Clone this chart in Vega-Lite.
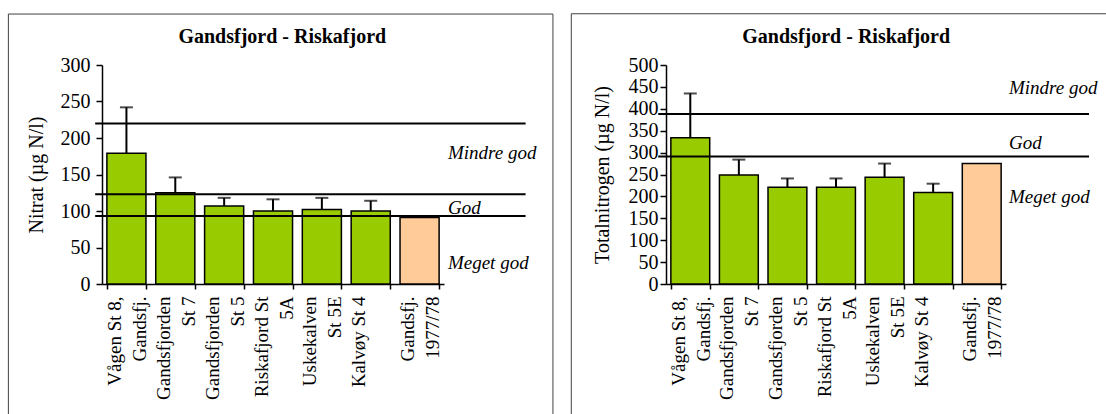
{
  "$schema": "https://vega.github.io/schema/vega-lite/v6.json",
  "padding": {"left": 7, "top": 13, "right": 0, "bottom": 0},
  "spacing": 16,
  "config": {
    "font": "Liberation Serif",
    "view": {"stroke": null},
    "text": {"font": "Liberation Serif"},
    "axis": {"labelFont": "Liberation Serif", "titleFont": "Liberation Serif", "labelColor": "#000", "titleColor": "#000", "domainColor": "#000", "tickColor": "#000", "grid": false, "domainWidth": 1.5, "tickWidth": 1.5}
  },
  "datasets": {
    "nitrat": [
      {"station": "Vågen St 8,|Gandsfj.", "value": 179, "upper": 242, "period": "2000s"},
      {"station": "Gandsfjorden|St 7", "value": 125, "upper": 146, "period": "2000s"},
      {"station": "Gandsfjorden|St 5", "value": 107, "upper": 118, "period": "2000s"},
      {"station": "Riskafjord St|5A", "value": 100, "upper": 116, "period": "2000s"},
      {"station": "Uskekalven|St 5E", "value": 102, "upper": 118, "period": "2000s"},
      {"station": "Kalvøy St 4", "value": 100, "upper": 114, "period": "2000s"},
      {"station": "Gandsfj.|1977/78", "value": 91, "upper": null, "period": "1977/78"}
    ],
    "totn": [
      {"station": "Vågen St 8,|Gandsfj.", "value": 334, "upper": 435, "period": "2000s"},
      {"station": "Gandsfjorden|St 7", "value": 249, "upper": 284, "period": "2000s"},
      {"station": "Gandsfjorden|St 5", "value": 221, "upper": 241, "period": "2000s"},
      {"station": "Riskafjord St|5A", "value": 221, "upper": 241, "period": "2000s"},
      {"station": "Uskekalven|St 5E", "value": 244, "upper": 275, "period": "2000s"},
      {"station": "Kalvøy St 4", "value": 209, "upper": 229, "period": "2000s"},
      {"station": "Gandsfj.|1977/78", "value": 275, "upper": null, "period": "1977/78"}
    ],
    "nitratLimits": [{"threshold": 220}, {"threshold": 123}, {"threshold": 93}],
    "nitratClasses": [{"label": "Mindre god", "ypos": 171}, {"label": "God", "ypos": 96}, {"label": "Meget god", "ypos": 21}],
    "totnLimits": [{"threshold": 388}, {"threshold": 291}],
    "totnClasses": [{"label": "Mindre god", "ypos": 434}, {"label": "God", "ypos": 309}, {"label": "Meget god", "ypos": 186}],
    "heading": [{"title": "Gandsfjord - Riskafjord"}]
  },
  "hconcat": [
    {
      "width": 342,
      "height": 219,
      "resolve": {"scale": {"x": "independent"}},
      "layer": [
        {
          "data": {"name": "nitrat"},
          "layer": [
            {
              "mark": {"type": "bar", "stroke": "#000", "strokeWidth": 1.5},
              "encoding": {
                "x": {"field": "station", "type": "nominal", "sort": null, "scale": {"paddingInner": 0.2, "paddingOuter": 0.1},
                  "axis": {"title": null, "labelAngle": -90, "labelFont": "Liberation Serif", "labelFontSize": 19, "labelLineHeight": 25, "labelExpr": "split(datum.label, '|')", "labelOffset": -12, "tickBand": "extent", "tickSize": 5, "labelPadding": 7}},
                "y": {"field": "value", "type": "quantitative", "scale": {"domain": [0, 300], "nice": false}, "title": "Nitrat (µg N/l)",
                  "axis": {"values": [0, 50, 100, 150, 200, 250, 300], "tickSize": 6, "labelFont": "Liberation Serif", "labelFontSize": 20, "titleFont": "Liberation Serif", "titleFontSize": 20, "titleFontWeight": "normal", "labelPadding": 6, "titlePadding": 14}},
                "color": {"field": "period", "type": "nominal", "scale": {"domain": ["2000s", "1977/78"], "range": ["#99CC00", "#FFCC99"]}, "legend": null}
              }
            },
            {
              "transform": [{"filter": "datum.upper != null"}],
              "mark": {"type": "rule", "color": "#000", "strokeWidth": 2},
              "encoding": {
                "x": {"field": "station", "type": "nominal", "sort": null,
                  "axis": {"title": null, "labelAngle": -90, "labelFont": "Liberation Serif", "labelFontSize": 19, "labelLineHeight": 25, "labelExpr": "split(datum.label, '|')", "labelOffset": -12, "tickBand": "extent", "tickSize": 5, "labelPadding": 7}},
                "y": {"field": "value", "type": "quantitative", "title": "Nitrat (µg N/l)",
                  "axis": {"values": [0, 50, 100, 150, 200, 250, 300], "tickSize": 6, "labelFont": "Liberation Serif", "labelFontSize": 20, "titleFont": "Liberation Serif", "titleFontSize": 20, "titleFontWeight": "normal", "labelPadding": 6, "titlePadding": 14}},
                "y2": {"field": "upper"}
              }
            },
            {
              "transform": [{"filter": "datum.upper != null"}],
              "mark": {"type": "tick", "color": "#000", "size": 13, "thickness": 2},
              "encoding": {
                "x": {"field": "station", "type": "nominal", "sort": null,
                  "axis": {"title": null, "labelAngle": -90, "labelFont": "Liberation Serif", "labelFontSize": 19, "labelLineHeight": 25, "labelExpr": "split(datum.label, '|')", "labelOffset": -12, "tickBand": "extent", "tickSize": 5, "labelPadding": 7}},
                "y": {"field": "upper", "type": "quantitative", "title": "Nitrat (µg N/l)",
                  "axis": {"values": [0, 50, 100, 150, 200, 250, 300], "tickSize": 6, "labelFont": "Liberation Serif", "labelFontSize": 20, "titleFont": "Liberation Serif", "titleFontSize": 20, "titleFontWeight": "normal", "labelPadding": 6, "titlePadding": 14}}
              }
            }
          ]
        },
        {
          "layer": [
            {
              "data": {"values": [{}]},
              "mark": {"type": "rect", "fill": null, "stroke": "#404040", "strokeWidth": 1},
              "encoding": {
                "x": {"datum": -1.916, "type": "quantitative", "scale": {"domain": [0, 7], "nice": false, "zero": false}, "axis": null},
                "x2": {"datum": 9.23},
                "y": {"datum": 369.8, "type": "quantitative", "title": "Nitrat (µg N/l)",
                  "axis": {"values": [0, 50, 100, 150, 200, 250, 300], "tickSize": 6, "labelFont": "Liberation Serif", "labelFontSize": 20, "titleFont": "Liberation Serif", "titleFontSize": 20, "titleFontWeight": "normal", "labelPadding": 6, "titlePadding": 14}},
                "y2": {"datum": -187}
              }
            },
            {
              "data": {"name": "heading"},
              "mark": {"type": "text", "align": "center", "baseline": "alphabetic", "fontSize": 20, "fontWeight": "bold", "color": "#000", "font": "Liberation Serif"},
              "encoding": {
                "x": {"datum": 3.69, "type": "quantitative", "scale": {"domain": [0, 7], "nice": false, "zero": false}, "axis": null},
                "y": {"datum": 330, "type": "quantitative", "title": "Nitrat (µg N/l)",
                  "axis": {"values": [0, 50, 100, 150, 200, 250, 300], "tickSize": 6, "labelFont": "Liberation Serif", "labelFontSize": 20, "titleFont": "Liberation Serif", "titleFontSize": 20, "titleFontWeight": "normal", "labelPadding": 6, "titlePadding": 14}},
                "text": {"field": "title"}
              }
            },
            {
              "data": {"name": "nitratLimits"},
              "mark": {"type": "rule", "color": "#000", "strokeWidth": 2},
              "encoding": {
                "x": {"datum": -0.14, "type": "quantitative", "scale": {"domain": [0, 7], "nice": false, "zero": false}, "axis": null},
                "x2": {"datum": 8.67},
                "y": {"field": "threshold", "type": "quantitative", "title": "Nitrat (µg N/l)",
                  "axis": {"values": [0, 50, 100, 150, 200, 250, 300], "tickSize": 6, "labelFont": "Liberation Serif", "labelFontSize": 20, "titleFont": "Liberation Serif", "titleFontSize": 20, "titleFontWeight": "normal", "labelPadding": 6, "titlePadding": 14}}
              }
            },
            {
              "data": {"name": "nitratClasses"},
              "mark": {"type": "text", "align": "left", "baseline": "alphabetic", "fontSize": 19, "fontStyle": "italic", "color": "#000", "font": "Liberation Serif"},
              "encoding": {
                "x": {"datum": 7.08, "type": "quantitative", "scale": {"domain": [0, 7], "nice": false, "zero": false}, "axis": null},
                "y": {"field": "ypos", "type": "quantitative", "title": "Nitrat (µg N/l)",
                  "axis": {"values": [0, 50, 100, 150, 200, 250, 300], "tickSize": 6, "labelFont": "Liberation Serif", "labelFontSize": 20, "titleFont": "Liberation Serif", "titleFontSize": 20, "titleFontWeight": "normal", "labelPadding": 6, "titlePadding": 14}},
                "text": {"field": "label"}
              }
            }
          ]
        }
      ]
    },
    {
      "width": 340,
      "height": 219,
      "resolve": {"scale": {"x": "independent"}},
      "layer": [
        {
          "data": {"name": "totn"},
          "layer": [
            {
              "mark": {"type": "bar", "stroke": "#000", "strokeWidth": 1.5},
              "encoding": {
                "x": {"field": "station", "type": "nominal", "sort": null, "scale": {"paddingInner": 0.2, "paddingOuter": 0.1},
                  "axis": {"title": null, "labelAngle": -90, "labelFont": "Liberation Serif", "labelFontSize": 19, "labelLineHeight": 25, "labelExpr": "split(datum.label, '|')", "labelOffset": -12, "tickBand": "extent", "tickSize": 5, "labelPadding": 7}},
                "y": {"field": "value", "type": "quantitative", "scale": {"domain": [0, 500], "nice": false}, "title": "Totalnitrogen (µg N/l)",
                  "axis": {"values": [0, 50, 100, 150, 200, 250, 300, 350, 400, 450, 500], "tickSize": 6, "labelFont": "Liberation Serif", "labelFontSize": 20, "titleFont": "Liberation Serif", "titleFontSize": 20, "titleFontWeight": "normal", "labelPadding": 2, "titlePadding": 16}},
                "color": {"field": "period", "type": "nominal", "scale": {"domain": ["2000s", "1977/78"], "range": ["#99CC00", "#FFCC99"]}, "legend": null}
              }
            },
            {
              "transform": [{"filter": "datum.upper != null"}],
              "mark": {"type": "rule", "color": "#000", "strokeWidth": 2},
              "encoding": {
                "x": {"field": "station", "type": "nominal", "sort": null,
                  "axis": {"title": null, "labelAngle": -90, "labelFont": "Liberation Serif", "labelFontSize": 19, "labelLineHeight": 25, "labelExpr": "split(datum.label, '|')", "labelOffset": -12, "tickBand": "extent", "tickSize": 5, "labelPadding": 7}},
                "y": {"field": "value", "type": "quantitative", "title": "Totalnitrogen (µg N/l)",
                  "axis": {"values": [0, 50, 100, 150, 200, 250, 300, 350, 400, 450, 500], "tickSize": 6, "labelFont": "Liberation Serif", "labelFontSize": 20, "titleFont": "Liberation Serif", "titleFontSize": 20, "titleFontWeight": "normal", "labelPadding": 2, "titlePadding": 16}},
                "y2": {"field": "upper"}
              }
            },
            {
              "transform": [{"filter": "datum.upper != null"}],
              "mark": {"type": "tick", "color": "#000", "size": 13, "thickness": 2},
              "encoding": {
                "x": {"field": "station", "type": "nominal", "sort": null,
                  "axis": {"title": null, "labelAngle": -90, "labelFont": "Liberation Serif", "labelFontSize": 19, "labelLineHeight": 25, "labelExpr": "split(datum.label, '|')", "labelOffset": -12, "tickBand": "extent", "tickSize": 5, "labelPadding": 7}},
                "y": {"field": "upper", "type": "quantitative", "title": "Totalnitrogen (µg N/l)",
                  "axis": {"values": [0, 50, 100, 150, 200, 250, 300, 350, 400, 450, 500], "tickSize": 6, "labelFont": "Liberation Serif", "labelFontSize": 20, "titleFont": "Liberation Serif", "titleFontSize": 20, "titleFontWeight": "normal", "labelPadding": 2, "titlePadding": 16}}
              }
            }
          ]
        },
        {
          "layer": [
            {
              "data": {"values": [{}]},
              "mark": {"type": "rect", "fill": null, "stroke": "#404040", "strokeWidth": 1},
              "encoding": {
                "x": {"datum": -1.95, "type": "quantitative", "scale": {"domain": [0, 7], "nice": false, "zero": false}, "axis": null},
                "x2": {"datum": 9.3},
                "y": {"datum": 617, "type": "quantitative", "title": "Totalnitrogen (µg N/l)",
                  "axis": {"values": [0, 50, 100, 150, 200, 250, 300, 350, 400, 450, 500], "tickSize": 6, "labelFont": "Liberation Serif", "labelFontSize": 20, "titleFont": "Liberation Serif", "titleFontSize": 20, "titleFontWeight": "normal", "labelPadding": 2, "titlePadding": 16}},
                "y2": {"datum": -312}
              }
            },
            {
              "data": {"name": "heading"},
              "mark": {"type": "text", "align": "center", "baseline": "alphabetic", "fontSize": 20, "fontWeight": "bold", "color": "#000", "font": "Liberation Serif"},
              "encoding": {
                "x": {"datum": 3.71, "type": "quantitative", "scale": {"domain": [0, 7], "nice": false, "zero": false}, "axis": null},
                "y": {"datum": 551, "type": "quantitative", "title": "Totalnitrogen (µg N/l)",
                  "axis": {"values": [0, 50, 100, 150, 200, 250, 300, 350, 400, 450, 500], "tickSize": 6, "labelFont": "Liberation Serif", "labelFontSize": 20, "titleFont": "Liberation Serif", "titleFontSize": 20, "titleFontWeight": "normal", "labelPadding": 2, "titlePadding": 16}},
                "text": {"field": "title"}
              }
            },
            {
              "data": {"name": "totnLimits"},
              "mark": {"type": "rule", "color": "#000", "strokeWidth": 2},
              "encoding": {
                "x": {"datum": -0.16, "type": "quantitative", "scale": {"domain": [0, 7], "nice": false, "zero": false}, "axis": null},
                "x2": {"datum": 8.71},
                "y": {"field": "threshold", "type": "quantitative", "title": "Totalnitrogen (µg N/l)",
                  "axis": {"values": [0, 50, 100, 150, 200, 250, 300, 350, 400, 450, 500], "tickSize": 6, "labelFont": "Liberation Serif", "labelFontSize": 20, "titleFont": "Liberation Serif", "titleFontSize": 20, "titleFontWeight": "normal", "labelPadding": 2, "titlePadding": 16}}
              }
            },
            {
              "data": {"name": "totnClasses"},
              "mark": {"type": "text", "align": "left", "baseline": "alphabetic", "fontSize": 19, "fontStyle": "italic", "color": "#000", "font": "Liberation Serif"},
              "encoding": {
                "x": {"datum": 7.06, "type": "quantitative", "scale": {"domain": [0, 7], "nice": false, "zero": false}, "axis": null},
                "y": {"field": "ypos", "type": "quantitative", "title": "Totalnitrogen (µg N/l)",
                  "axis": {"values": [0, 50, 100, 150, 200, 250, 300, 350, 400, 450, 500], "tickSize": 6, "labelFont": "Liberation Serif", "labelFontSize": 20, "titleFont": "Liberation Serif", "titleFontSize": 20, "titleFontWeight": "normal", "labelPadding": 2, "titlePadding": 16}},
                "text": {"field": "label"}
              }
            }
          ]
        }
      ]
    }
  ]
}
